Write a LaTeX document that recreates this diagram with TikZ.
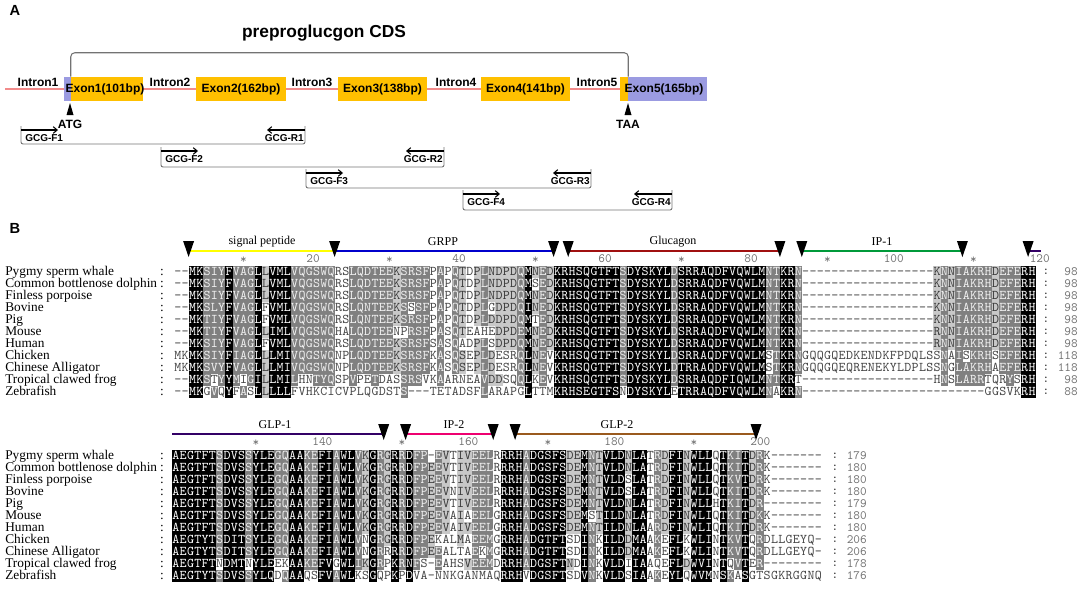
\documentclass[tikz,border=0pt]{standalone}
\usepackage{fontspec}
\setmainfont{Liberation Serif}
\setsansfont{Liberation Sans}
\usetikzlibrary{arrows.meta}

\ExplSyntaxOn
\dim_new:N \g_aln_w_dim
\dim_gset:Nn \g_aln_w_dim { 5.475pt }
\int_new:N \l_aln_n_int
\int_new:N \l_aln_cnt_int
\int_new:N \l_aln_best_int
\tl_new:N \l_aln_c_tl
\tl_new:N \l_aln_g_tl
\tl_new:N \l_aln_h_tl
\tl_new:N \l_aln_b_tl
\tl_new:N \l_aln_best_tl
\tl_new:N \l_aln_lv_tl
\str_new:N \l_aln_str
\str_new:N \l_aln_row_str
\cs_generate_variant:Nn \seq_gput_right:Nn { cV }

% similarity groups DN EQ ST KR FYW LIVM
\cs_new:Npn \aln_group:n #1
  {
    \str_case:nnF {#1}
      { {N}{D} {Q}{E} {T}{S} {R}{K} {Y}{F} {W}{F} {I}{L} {V}{L} {M}{L} }
      {#1}
  }
\cs_generate_variant:Nn \aln_group:n { V }

% shade level of one column: 3 all, 2 >=80%, 1 >=60%, 0 none
\cs_new_protected:Npn \aln_column:nn #1#2
  {
    \int_zero:N \l_aln_best_int
    \tl_set:Nn \l_aln_best_tl { - }
    \seq_map_inline:cn { g_aln_#1_seq }
      {
        \tl_set:Ne \l_aln_c_tl { \str_item:nn {##1} {#2} }
        \tl_set:Ne \l_aln_g_tl { \aln_group:V \l_aln_c_tl }
        \str_if_eq:eeF { \l_aln_g_tl } { - }
          {
            \int_zero:N \l_aln_cnt_int
            \seq_map_inline:cn { g_aln_#1_seq }
              {
                \tl_set:Ne \l_aln_c_tl { \str_item:nn {####1} {#2} }
                \tl_set:Ne \l_aln_h_tl { \aln_group:V \l_aln_c_tl }
                \str_if_eq:eeT { \l_aln_g_tl } { \l_aln_h_tl }
                  { \int_incr:N \l_aln_cnt_int }
              }
            \int_compare:nNnT { \l_aln_cnt_int } > { \l_aln_best_int }
              {
                \int_set_eq:NN \l_aln_best_int \l_aln_cnt_int
                \tl_set_eq:NN \l_aln_best_tl \l_aln_g_tl
              }
          }
      }
    \seq_gput_right:cV { g_aln_#1_grp_seq } \l_aln_best_tl
    \int_compare:nNnTF { \l_aln_best_int } = { \l_aln_n_int }
      { \tl_set:Nn \l_aln_lv_tl { 3 } }
      {
        \int_compare:nNnTF { 10 * \l_aln_best_int } < { 8 * \l_aln_n_int }
          {
            \int_compare:nNnTF { 10 * \l_aln_best_int } < { 6 * \l_aln_n_int }
              { \tl_set:Nn \l_aln_lv_tl { 0 } }
              { \tl_set:Nn \l_aln_lv_tl { 1 } }
          }
          { \tl_set:Nn \l_aln_lv_tl { 2 } }
      }
    \seq_gput_right:cV { g_aln_#1_lvl_seq } \l_aln_lv_tl
  }

\NewDocumentCommand \alnblock { m m }
  {
    \seq_gclear_new:c { g_aln_#1_seq }
    \clist_map_inline:nn {#2}
      {
        \str_clear:N \l_aln_str
        \tl_map_inline:nn {##1} { \str_put_right:Nn \l_aln_str {####1} }
        \seq_gput_right:cV { g_aln_#1_seq } \l_aln_str
      }
    \seq_gclear_new:c { g_aln_#1_grp_seq }
    \seq_gclear_new:c { g_aln_#1_lvl_seq }
    \int_set:Nn \l_aln_n_int { \seq_count:c { g_aln_#1_seq } }
    \str_set:Ne \l_aln_row_str { \seq_item:cn { g_aln_#1_seq } { 1 } }
    \int_step_inline:nn { \str_count:N \l_aln_row_str }
      { \aln_column:nn {#1} {##1} }
  }

\cs_new_protected:Npn \aln_cell:nn #1#2
  {
    \group_begin:
    \setlength { \fboxsep } { 0pt }
    \colorbox { aln#1bg }
      {
        \makebox [ \g_aln_w_dim ] [ c ]
          { \rule [ -1.8pt ] { 0pt } { 9pt } \textcolor { aln#1fg } {#2} }
      }
    \group_end:
  }
\cs_generate_variant:Nn \aln_cell:nn { VV }

\NewDocumentCommand \alnrow { m m }
  {
    \str_set:Ne \l_aln_row_str { \seq_item:cn { g_aln_#1_seq } {#2} }
    \int_step_inline:nn { \str_count:N \l_aln_row_str }
      {
        \tl_set:Ne \l_aln_c_tl { \str_item:Nn \l_aln_row_str {##1} }
        \tl_set:Ne \l_aln_g_tl { \aln_group:V \l_aln_c_tl }
        \tl_set:Ne \l_aln_b_tl { \seq_item:cn { g_aln_#1_grp_seq } {##1} }
        \tl_set:Ne \l_aln_lv_tl { \seq_item:cn { g_aln_#1_lvl_seq } {##1} }
        \str_if_eq:eeF { \l_aln_g_tl } { \l_aln_b_tl }
          { \tl_set:Nn \l_aln_lv_tl { 0 } }
        \aln_cell:VV \l_aln_lv_tl \l_aln_c_tl
      }
  }
\ExplSyntaxOff

\begin{document}
\begin{tikzpicture}[x=0.75pt,y=-0.75pt,
    lab/.style={font=\sffamily\bfseries\fontsize{9}{10}\selectfont,inner sep=0pt},
    primer/.style={font=\sffamily\bfseries\fontsize{7.5}{8}\selectfont,inner sep=0pt},
    exon/.style={fill=exonorange,draw=none,minimum height=18pt,inner sep=0pt},
    utr/.style={fill=utrblue,draw=none,minimum height=18pt,inner sep=0pt},
    intronline/.style={draw=intronred,line width=0.9pt},
    cdsline/.style={draw=black!55,line width=0.8pt,rounded corners=3pt},
    amplicon/.style={draw=black!55,line width=0.7pt,rounded corners=1.5pt},
    primerarrow/.style={draw=black,line width=0.8pt,-{Straight Barb[length=3pt,width=5pt]}},
    spname/.style={font=\rmfamily\fontsize{10}{10}\selectfont,inner sep=0pt,anchor=west,
      text height=6.6pt,text depth=1.6pt},
    seqrow/.style={font=\ttfamily\fontsize{10}{10}\selectfont,inner sep=0pt,anchor=west},
    ruler/.style={font=\ttfamily\fontsize{9.5}{9.5}\selectfont,inner sep=0pt,text=black!55},
    feature/.style={line width=2pt},
    featlab/.style={font=\rmfamily\fontsize{9}{9}\selectfont,inner sep=0pt},
    cleave/.pic={\fill[black] (0,0) -- (-5.5,-16) -- (5.5,-16) -- cycle;},
    startmark/.pic={\fill[black] (0,0) -- (-3.5,12) -- (3.5,12) -- cycle;}]
  \definecolor{exonorange}{HTML}{FFC000}
  \definecolor{utrblue}{HTML}{9B9BE1}
  \definecolor{intronred}{HTML}{F28B8B}
  \definecolor{sigyel}{HTML}{FFFF00}
  \definecolor{grppblue}{HTML}{0000CC}
  \definecolor{glured}{HTML}{A01010}
  \definecolor{ipgreen}{HTML}{009A3A}
  \definecolor{glppurple}{HTML}{330066}
  \definecolor{iptwopink}{HTML}{EE0070}
  \definecolor{glptwobrown}{HTML}{9A5A1E}
  \definecolor{aln0bg}{HTML}{FFFFFF}
  \definecolor{aln0fg}{HTML}{454545}
  \definecolor{aln1bg}{HTML}{C8C8C8}
  \definecolor{aln1fg}{HTML}{3A3A3A}
  \definecolor{aln2bg}{HTML}{808080}
  \definecolor{aln2fg}{HTML}{F2F2F2}
  \definecolor{aln3bg}{HTML}{000000}
  \definecolor{aln3fg}{HTML}{FFFFFF}
  \path[use as bounding box] (0,0) rectangle (1084,596);

  % A: gene structure
  \node[font=\sffamily\bfseries\fontsize{11}{11}\selectfont] (pA) at (15,10) {A};
  \node[font=\sffamily\bfseries\fontsize{13}{13}\selectfont] (cds) at (324,33) {preproglucgon CDS};
  \coordinate (gleft) at (5,89);
  \coordinate (gright) at (705,89);
  \draw[intronline] (gleft) -- (gright);
  \node[utr,minimum width=5.25pt] (utr1) at (67.5,89) {};
  \node[exon,minimum width=54pt] (exon1) at (107,89) {};
  \node[lab] (exon1txt) at (105,89) {Exon1(101bp)};
  \foreach \nm/\xc/\bw/\txt in {exon2/241/67.5pt/{Exon2(162bp)},exon3/382.5/66.75pt/{Exon3(138bp)},exon4/525.5/66.75pt/{Exon4(141bp)}}
    \node[exon,minimum width=\bw,font=\sffamily\bfseries\fontsize{9}{10}\selectfont] (\nm) at (\xc,89) {\txt};
  \node[exon,minimum width=6pt] (exon5) at (624,89) {};
  \node[utr,minimum width=59.25pt] (utr5) at (667.5,89) {};
  \node[lab] (exon5txt) at (664,89) {Exon5(165bp)};
  \foreach \k/\xc in {1/38,2/170,3/312,4/456,5/597}
    \node[lab] (intron\k) at (\xc,82) {Intron\k};
  \draw[cdsline] (exon1.north west) -- ++(0,-24) -| (exon5.north east);
  \pic at (70,103) {startmark};
  \node[lab] (atg) at (70,124) {ATG};
  \pic at (628,103) {startmark};
  \node[lab] (taa) at (628,124) {TAA};

  % primer pairs
  \foreach \k/\xl/\xr/\yt/\yb in {1/21/305/126/144,2/161/444/147/167,3/306/591/169/188,4/463/672/190/210}{
    \coordinate (pl\k) at (\xl,\yt);
    \coordinate (ql\k) at (\xl,\yb);
    \coordinate (qr\k) at (\xr,\yb);
    \coordinate (pr\k) at (\xr,\yt);
    \draw[amplicon] (pl\k) -- (ql\k) -- (qr\k) -- (pr\k);
    \coordinate (fa\k) at (\xl,\yt+4);
    \coordinate (fb\k) at (\xl+37,\yt+4);
    \coordinate (ra\k) at (\xr,\yt+4);
    \coordinate (rb\k) at (\xr-38,\yt+4);
    \draw[primerarrow] (fa\k) -- (fb\k);
    \draw[primerarrow] (ra\k) -- (rb\k);
    \node[primer,anchor=west] (fl\k) at (\xl+4,\yt+12) {GCG-F\k};
    \node[primer,anchor=east] (rl\k) at (\xr-1,\yt+12) {GCG-R\k};
  }

  % B: alignment
  \node[font=\sffamily\bfseries\fontsize{11}{11}\selectfont] (pB) at (15,228) {B};
  \alnblock{one}{
    --MKSIYFVA GLLVMLVQGS WQRSLQDTEE KSRSFPAPQT DPLNDPDQMN EDKRHSQGTF TSDYSKYLDS RRAQDFVQWL MNTKRN---- ---------- ----KNNIAK RHDEFERH,
    --MKSIYFVA GLLVMLVQGS WQRSLQDTEE KSRSFPAPQT DPLNDPDQMS EDKRHSQGTF TSDYSKYLDS RRAQDFVQWL MNTKRN---- ---------- ----KNNIAK RHDEFERH,
    --MKSIYFVA GLLVMLVQGS WQRSLQDTEE KSRSFPAPQT DPLNDPDQMN EDKRHSQGTF TSDYSKYLDS RRAQDFVQWL MNTKRN---- ---------- ----KNNIAK RHDEFERH,
    --MKSLYFVA GLFVMLVQGS WQRSLQNTEE KSSSFPAPQT DPLGDPDQIN EDKRHSQGTF TSDYSKYLDS RRAQDFVQWL MNTKRN---- ---------- ----KNNIAK RHDEFERH,
    --MKTIYFVA GLFVMLVQGS WQRSLQNTEE KSRSFPAPQT DPLDDPDQMT EDKRHSQGTF TSDYSKYLDS RRAQDFVQWL MNTKRN---- ---------- ----KNNIAK RHDEFERH,
    --MKTIYFVA GLLIMLVQGS WQHALQDTEE NPRSFPASQT EAHEDPDEMN EDKRHSQGTF TSDYSKYLDS RRAQDFVQWL MNTKRN---- ---------- ----RNNIAK RHDEFERH,
    --MKSIYFVA GLFVMLVQGS WQRSLQDTEE KSRSFSASQA DPLSDPDQMN EDKRHSQGTF TSDYSKYLDS RRAQDFVQWL MNTKRN---- ---------- ----RNNIAK RHDEFERH,
    MKMKSIYFIA GLLLMIVQGS WQNPLQDTEE KSRSFKASQS EPLDESRQLN EVKRHSQGTF TSDYSKYLDS RRAQDFVQWL MSTKRNGQQG QEDKENDKFP DQLSSNAISK RHSEFERH,
    MKMKSVYFVA GLLLMIVQGS WQNPLQDTEE KSRSFKASQS EPLDESRQLN EVKRHSQGTF TSDYSKYLDT RRAQDFVQWL MSTKRNGQQG QEQRENEKYL DPLSSNGLAK RHAEFERH,
    --MKSTYYMI GILLMILHNT YQSPVPETDA SSRSVKAARN EAVDDSQQLK EVKRHSQGTF TSDYSKYLDS RRAQDFIQWL MNTKRT---- ---------- ----HNSLAR RTQRYSRH,
    --MKGVQYFA SLLLLLFVHK CICVPLQGDS TS---TETAD SFLARAPGLT TMKRHSEGTF SNDYSKYLET RRAQDFVQWL MNAKRN---- ---------- ---------- -GGSVKRH}
  \alnblock{two}{
    AEGTFTSDVS SYLEGQAAKE FIAWLVKGRG RRDFP-EVTI VEELRRRHAD GSFSDEMNTV LDNLATRDFI NWLLQTKITD RK-------,
    AEGTFTSDVS SYLEGQAAKE FIAWLVKGRG RRDFPEEVTI VEELRRRHAD GSFSDEMNTV LDNLATRDFI NWLLQTKITD RK-------,
    AEGTFTSDVS SYLEGQAAKE FIAWLVKGRG RRDFPEEVTI VEELRRRHAD GSFSDEMNTV LDSLATRDFI NWLLQTKVTD RK-------,
    AEGTFTSDVS SYLEGQAAKE FIAWLVKGRG RRDFPEEVNI VEELRRRHAD GSFSDEMNTV LDSLATRDFI NWLLQTKITD RK-------,
    AEGTFTSDVS SYLEGQAAKE FIAWLVKGRG RRDFPEEVTI VEELRRRHAD GSFSDEMNTV LDNLATRDFI NWLLHTKITD R--------,
    AEGTFTSDVS SYLEGQAAKE FIAWLVKGRG RRDFPEEVAI AEELGRRHAD GSFSDEMSTI LDNLATRDFI NWLIQTKITD KK-------,
    AEGTFTSDVS SYLEGQAAKE FIAWLVKGRG RRDFPEEVAI VEELGRRHAD GSFSDEMNTI LDNLAARDFI NWLIQTKITD RK-------,
    AEGTYTSDIT SYLEGQAAKE FIAWLVNGRG RRDFPEKALM AEEMGRRHAD GTFTSDINKI LDDMAAKEFL KWLINTKVTQ RDLLGEYQ-,
    AEGTYTSDIT SYLEGQAAKE FIAWLVNGRR RRDFPEEALT AEKMGRRHAD GTFTSDINKI LDDMAAKEFL KWLINTKVTQ RDLLGEYQ-,
    AEGTFTNDMT NYLEEKAAKE FVGWLIKGRP KRNFS-EAHS VEEMDRRHAD GSFTNDINKV LDIIAAQEFL DWVINTQVTE R--------,
    AEGTYTSDVS SYLQDQAAQS FVAWLKSGQP KPDVA-NNKG ANMAQRRHVD GSFTSDVNKV LDSIAAKEYL QWVMNSKASG TSGKRGGNQ}

  % peptide segments, block 1
  \foreach \ba/\bb/\col/\lx/\txt in {2/22/sigyel/262/{signal peptide},22/52/grppblue/443/GRPP,54/83/glured/673/Glucagon,86/108/ipgreen/882/IP-1}{
    \coordinate (sa\ba) at (174+7.3*\ba,251);
    \coordinate (sb\ba) at (174+7.3*\bb,251);
    \draw[feature,\col] (sa\ba) -- (sb\ba);
    \node[featlab] (sl\ba) at (\lx,242) {\txt};
  }
  \coordinate (tailA) at (174+7.3*117,251);
  \coordinate (tailB) at (1041,251);
  \draw[feature,glppurple] (tailA) -- (tailB);
  \foreach \b in {2,22,52,54,83,86,108,117}
    \pic at (174+7.3*\b,257) {cleave};
  \foreach \c in {10,30,...,110}
    \node[ruler] (rsa\c) at (174+7.3*\c-3.65,260) {*};
  \foreach \c in {20,40,...,120}
    \node[ruler,anchor=east] (rna\c) at (174+7.3*\c,259) {\c};

  % peptide segments, block 2
  \foreach \ba/\bb/\col/\lx/\txt in {0/29/glppurple/275/GLP-1,32/44/iptwopink/454/IP-2,47/80/glptwobrown/617/GLP-2}{
    \coordinate (ta\ba) at (172+7.3*\ba,434);
    \coordinate (tb\ba) at (172+7.3*\bb,434);
    \draw[feature,\col] (ta\ba) -- (tb\ba);
    \node[featlab] (tl\ba) at (\lx,425) {\txt};
  }
  \foreach \b in {29,32,44,47,80}
    \pic at (172+7.3*\b,440) {cleave};
  \foreach \c in {130,150,170,190}
    \node[ruler] (rsb\c) at (172+7.3*\c-861.4-3.65,443) {*};
  \foreach \c in {140,160,180,200}
    \node[ruler,anchor=east] (rnb\c) at (172+7.3*\c-861.4,442) {\c};

  % rows
  \foreach \i/\sp/\na/\nb in {1/Pygmy sperm whale/98/179,2/Common bottlenose dolphin/98/180,%
      3/Finless porpoise/98/180,4/Bovine/98/180,5/Pig/98/179,6/Mouse/98/180,7/Human/98/180,%
      8/Chicken/118/206,9/Chinese Alligator/118/206,10/Tropical clawed frog/98/178,11/Zebrafish/88/176}{
    \node[spname] (na\i) at (5,260+12*\i) {\sp};
    \node[spname,anchor=center] (ca\i) at (162,260+12*\i) {:};
    \node[seqrow] (ra\i) at (174,260+12*\i) {\alnrow{one}{\i}};
    \node[ruler,text=black!80] (ea\i) at (1046,260+12*\i) {:};
    \node[ruler,anchor=east] (ma\i) at (1078,260+12*\i) {\na};
    \node[spname] (nb\i) at (5,444+12*\i) {\sp};
    \node[spname,anchor=center] (cb\i) at (162,444+12*\i) {:};
    \node[seqrow] (rb\i) at (172,444+12*\i) {\alnrow{two}{\i}};
    \node[ruler,text=black!80] (eb\i) at (835,444+12*\i) {:};
    \node[ruler,anchor=east] (mb\i) at (867,444+12*\i) {\nb};
  }
\end{tikzpicture}
\end{document}
